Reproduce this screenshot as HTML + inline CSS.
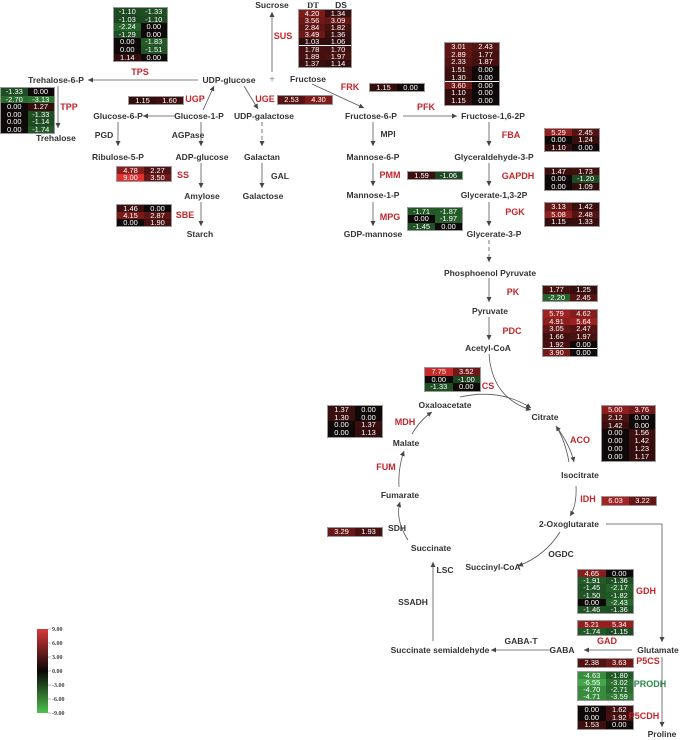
<!DOCTYPE html>
<html><head><meta charset="utf-8">
<style>
body{margin:0;width:693px;height:740px;background:#fff;position:relative;overflow:hidden;font-family:"Liberation Sans",Arial,sans-serif;}
.t{position:absolute;font-size:8.5px;font-weight:bold;color:#333;white-space:nowrap;transform:translate(-50%,-50%);}
.r{color:#c3262c;}
.g{color:#2a8a4a;}
.b{position:absolute;border:1px solid #999;box-sizing:content-box;}
.c{position:absolute;color:#fff;font-size:7.5px;text-align:center;}
svg{position:absolute;left:0;top:0;}
</style></head><body>
<svg width="693" height="740">
<defs>
<marker id="a" markerWidth="6" markerHeight="6" refX="5" refY="3" orient="auto" markerUnits="userSpaceOnUse"><path d="M0,0.5 L5,3 L0,5.5 Z" fill="#444"/></marker>
<linearGradient id="cb" x1="0" y1="0" x2="0" y2="1">
<stop offset="0" stop-color="#d83a3a"/><stop offset="0.5" stop-color="#0a0505"/><stop offset="1" stop-color="#4cc24c"/></linearGradient>
</defs>
<g stroke="#555" stroke-width="0.8" fill="none" marker-end="url(#a)">
<path d="M198,80 H88"/>
<path d="M58,86 V128"/>
<path d="M272,72 V12"/>
<path d="M312,84 L364,108"/>
<path d="M203,110 L214,86"/>
<path d="M244,86 L258,109"/>
<path d="M176,116 H143"/>
<path d="M118,122 V146"/>
<path d="M201,122 V146"/>
<path d="M262,122 V146" stroke-dasharray="4,3"/>
<path d="M262,163 V188"/>
<path d="M201,163 V188"/>
<path d="M201,202 V226"/>
<path d="M403,116 H457"/>
<path d="M373,122 V146"/>
<path d="M373,163 V186"/>
<path d="M373,202 V226"/>
<path d="M489,122 V146"/>
<path d="M489,163 V186"/>
<path d="M489,202 V226"/>
<path d="M489,240 V262" stroke-dasharray="4,3"/>
<path d="M489,278 V302"/>
<path d="M489,317 V340"/>
<path d="M489,354 Q492,398 531,410"/>
<path d="M460,397 Q500,388 531,408"/>
<path d="M569,462 Q565,440 556,426"/>
<path d="M556,426 Q570,445 574,462"/>
<path d="M576,486 Q577,505 570,516"/>
<path d="M560,532 Q545,556 518,566"/>
<path d="M408,540 Q395,520 400,502"/>
<path d="M399,487 Q398,468 404,451"/>
<path d="M412,434 Q420,420 432,412"/>
<path d="M606,524 H662 V642"/>
<path d="M632,650 H584"/>
<path d="M550,650 H491"/>
<path d="M433,641 V562"/>
<path d="M662,657 V727"/>
</g>
<rect x="37" y="629" width="11" height="84" fill="url(#cb)"/>
<g stroke="#777" stroke-width="0.6">
<path d="M48,629h3M48,643h3M48,657h3M48,671h3M48,685h3M48,699h3M48,713h3"/>
</g>
<g font-family="Liberation Serif,serif" font-size="6" font-weight="bold" fill="#444">
<text x="52" y="631">9.00</text><text x="52" y="645">6.00</text><text x="52" y="659">3.00</text><text x="52" y="673">0.00</text><text x="52" y="687">-3.00</text><text x="52" y="701">-6.00</text><text x="52" y="715">-9.00</text>
</g>
</svg>
<div id="root"></div>
<script>
function col(v){
 if(v>=0){var t=Math.min(1,v/9);var r=15+210*Math.pow(t,0.85);var gg=8+40*t;return 'rgb('+Math.round(r)+','+Math.round(gg)+','+Math.round(gg)+')';}
 var t=Math.min(1,-v/9);var g=25+170*Math.pow(t,0.6);var r=15+70*Math.pow(t,0.8);return 'rgb('+Math.round(r)+','+Math.round(g)+','+Math.round(r+5)+')';
}
function box(x,y,cw,rh,rows){
 var h='<div class="b" style="left:'+x+'px;top:'+y+'px;width:'+(cw*2)+'px;height:'+(rh*rows.length)+'px">';
 rows.forEach(function(r,i){r.forEach(function(v,j){
  h+='<div class="c" style="left:'+(j*cw)+'px;top:'+(i*rh)+'px;width:'+cw+'px;height:'+rh+'px;line-height:'+rh+'px;background:'+col(v)+'">'+v.toFixed(2)+'</div>';});});
 return h+'</div>';
}
var H='';
H+=box(113,7,26.5,7.6,[[-1.10,-1.33],[-1.03,-1.10],[-2.24,0],[-1.29,0],[0,-1.83],[0,-1.51],[1.14,0]]);
H+=box(298,9,26,7.1,[[4.20,1.34],[3.56,3.09],[2.84,1.82],[3.49,1.36],[1.03,1.06],[1.78,1.70],[1.89,1.97],[1.37,1.14]]);
H+=box(0,87,26.5,7.5,[[-1.33,0],[-2.70,-3.13],[0,1.27],[0,-1.33],[0,-1.14],[0,-1.74]]);
H+=box(128,96,27,7,[[1.15,1.60]]);
H+=box(277,95,27,7.5,[[2.53,4.30]]);
H+=box(116,166,27,7.2,[[4.78,2.27],[9.00,3.50]]);
H+=box(116,204,27,7,[[1.46,0],[4.15,2.87],[0,1.90]]);
H+=box(369,83,27,7,[[1.15,0]]);
H+=box(444,42,27,7.7,[[3.01,2.43],[2.89,1.77],[2.33,1.87],[1.51,0],[1.30,0],[3.60,0],[1.10,0],[1.15,0]]);
H+=box(544,128,27,7.3,[[5.29,2.45],[0,1.24],[1.10,0]]);
H+=box(544,167,27,7.3,[[1.47,1.73],[0,-1.20],[0,1.09]]);
H+=box(544,202,27,7.5,[[3.13,1.42],[5.08,2.48],[1.15,1.33]]);
H+=box(407,171,27,7,[[1.59,-1.06]]);
H+=box(407,207,27,7.3,[[-1.71,-1.87],[0,-1.97],[-1.45,0]]);
H+=box(542,285,27,7.5,[[1.77,1.25],[-2.20,2.45]]);
H+=box(542,309,27,7.7,[[5.79,4.62],[4.91,5.64],[3.05,2.47],[1.66,1.97],[1.92,0],[3.90,0]]);
H+=box(424,367,27.5,7.7,[[7.75,3.52],[0,-1.00],[-1.33,0]]);
H+=box(327,405,27,7.7,[[1.37,0],[1.30,0],[0,1.37],[0,1.13]]);
H+=box(601,405,26.5,7.8,[[5.00,3.76],[2.12,0],[1.42,0],[0,1.56],[0,1.42],[0,1.23],[0,1.17]]);
H+=box(601,496,27,7.5,[[6.03,3.22]]);
H+=box(327,527,27,7.5,[[3.29,1.93]]);
H+=box(577,569,27.5,7.2,[[4.65,0],[-1.91,-1.36],[-1.45,-2.17],[-1.50,-1.82],[0,-2.43],[-1.46,-1.36]]);
H+=box(577,620,27.5,7,[[5.21,5.34],[-1.74,-1.15]]);
H+=box(577,658,27.5,7.5,[[2.38,3.63]]);
H+=box(577,671,27.5,7,[[-4.63,-1.80],[-6.55,-3.02],[-4.70,-2.71],[-4.71,-3.59]]);
H+=box(577,705,27.5,7.6,[[0,1.62],[0,1.92],[1.53,0]]);
var L=[
['Sucrose',272,5],['Trehalose-6-P',56,80],['UDP-glucose',229,80],['Fructose',308,79],['Trehalose',56,138],
['Glucose-6-P',118,116],['Glucose-1-P',199,116],['UDP-galactose',264,116],['PGD',104,135],['AGPase',188,135],
['Ribulose-5-P',118,157],['ADP-glucose',202,157],['Galactan',262,157],['GAL',280,176],['Amylose',202,196],['Galactose',263,196],['Starch',200,234],
['Fructose-6-P',371,116],['Fructose-1,6-2P',493,116],['MPI',388,134],['Mannose-6-P',373,157],['Glyceraldehyde-3-P',494,157],
['Mannose-1-P',373,195],['Glycerate-1,3-2P',494,195],['GDP-mannose',373,234],['Glycerate-3-P',494,234],
['Phosphoenol Pyruvate',490,273],['Pyruvate',490,311],['Acetyl-CoA',488,348],['Oxaloacetate',445,405],['Citrate',545,417],
['Malate',406,443],['Isocitrate',580,475],['Fumarate',400,495],['2-Oxoglutarate',569,524],['SDH',397,528],['Succinate',431,548],
['OGDC',561,554],['Succinyl-CoA',493,567],['LSC',445,570],['SSADH',413,602],['GABA-T',521,641],['Succinate semialdehyde',440,650],
['GABA',562,650],['Glutamate',658,650],['Proline',662,734]];
L.forEach(function(l){H+='<div class="t" style="left:'+l[1]+'px;top:'+l[2]+'px">'+l[0]+'</div>';});
var R=[['SUS',283,36],['TPS',140,72],['TPP',69,107],['UGP',195,99],['UGE',265,99],['FRK',350,87],['SS',183,175],['SBE',185,215],
['PFK',426,107],['FBA',511,135],['PMM',390,175],['GAPDH',518,176],['MPG',390,217],['PGK',515,212],['PK',513,292],['PDC',512,331],
['CS',488,386],['MDH',405,422],['ACO',580,440],['FUM',386,467],['IDH',588,499],['GDH',646,591],['GAD',607,641],['P5CS',648,661],['P5CDH',644,716]];
R.forEach(function(l){H+='<div class="t r" style="left:'+l[1]+'px;top:'+l[2]+'px;font-size:9px">'+l[0]+'</div>';});
H+='<div class="t g" style="left:650px;top:684px;font-size:9px">PRODH</div>';
H+='<div class="t" style="left:313px;top:5px;font-family:Liberation Serif,serif">DT</div>';
H+='<div class="t" style="left:341px;top:5px">DS</div>';
H+='<div class="t" style="left:272px;top:80px;color:#888;font-weight:normal;font-size:10px">+</div>';
document.getElementById('root').innerHTML=H;
</script>
</body></html>
